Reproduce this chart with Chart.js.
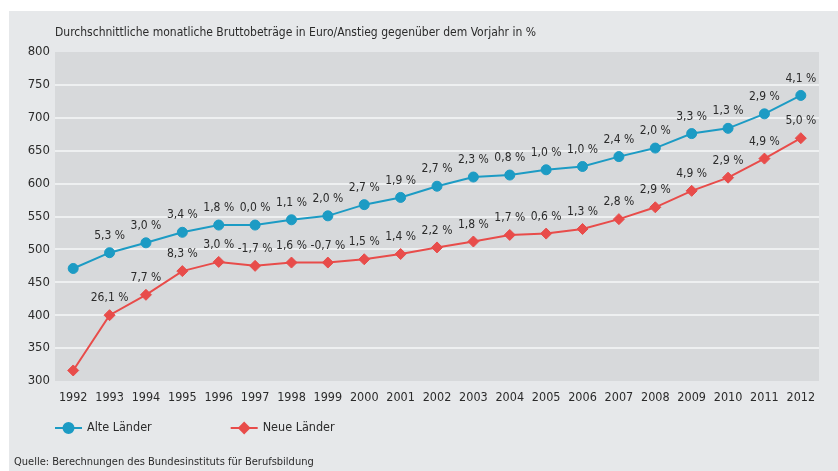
<!DOCTYPE html>
<html lang="de">
<head>
  <meta charset="UTF-8">
  <title>Ausbildungsvergütungen</title>
  <script src="https://cdn.jsdelivr.net/npm/chart.js@4.4.1/dist/chart.umd.min.js"></script>
  <style>
    body { margin: 0; background: #fff; }
    canvas { display: block; }
  </style>
</head>
<body>
  <canvas id="myChart" width="838" height="471"></canvas>

  <script>
  var years = ['1992','1993','1994','1995','1996','1997','1998','1999','2000','2001','2002',
               '2003','2004','2005','2006','2007','2008','2009','2010','2011','2012'];
  var alteWerte = [471, 495, 510, 526, 537, 537, 545, 551, 568, 579, 596,
                   610, 613, 621, 626, 641, 654, 676, 684, 706, 734];
  var neueWerte = [316, 400, 431, 467, 481, 475, 480, 480, 485, 493, 503,
                   512, 522, 524, 531, 546, 564, 589, 609, 638, 669];
  var alteProzent = ['', '5,3 %', '3,0 %', '3,4 %', '1,8 %', '0,0 %', '1,1 %', '2,0 %', '2,7 %', '1,9 %', '2,7 %',
                     '2,3 %', '0,8 %', '1,0 %', '1,0 %', '2,4 %', '2,0 %', '3,3 %', '1,3 %', '2,9 %', '4,1 %'];
  var neueProzent = ['', '26,1 %', '7,7 %', '8,3 %', '3,0 %', '-1,7 %', '1,6 %', '-0,7 %', '1,5 %', '1,4 %', '2,2 %',
                     '1,8 %', '1,7 %', '0,6 %', '1,3 %', '2,8 %', '2,9 %', '4,9 %', '2,9 %', '4,9 %', '5,0 %'];
  var yTicks = [300, 350, 400, 450, 500, 550, 600, 650, 700, 750, 800];

  var FONT = '"DejaVu Sans Condensed", "Liberation Sans", sans-serif';
  var BLUE = '#1c9bc4';
  var RED = '#e84c4a';
  var TEXT = '#2b2b2b';

  // backgrounds, heading, percent labels, legend and source
  var decor = {
    id: 'decor',
    beforeDraw: function(chart) {
      var ctx = chart.ctx, a = chart.chartArea;
      ctx.save();
      ctx.fillStyle = '#e6e8ea';
      ctx.fillRect(9, 11, chart.width - 9, chart.height - 11);
      ctx.fillStyle = '#d7d9db';
      ctx.fillRect(a.left, a.top, a.right - a.left, a.bottom - a.top);
      ctx.restore();
    },
    afterDatasetsDraw: function(chart) {
      var ctx = chart.ctx;
      var labels = [alteProzent, neueProzent];
      ctx.save();
      ctx.font = '12px ' + FONT;
      ctx.fillStyle = TEXT;
      ctx.textAlign = 'center';
      ctx.textBaseline = 'middle';
      chart.data.datasets.forEach(function(ds, i) {
        chart.getDatasetMeta(i).data.forEach(function(pt, j) {
          if (labels[i][j]) ctx.fillText(labels[i][j], pt.x, pt.y - 17);
        });
      });
      ctx.restore();
    },
    afterDraw: function(chart) {
      var ctx = chart.ctx, a = chart.chartArea;
      ctx.save();
      ctx.fillStyle = TEXT;
      ctx.textBaseline = 'middle';
      ctx.textAlign = 'left';
      ctx.font = '12px ' + FONT;
      ctx.fillText('Durchschnittliche monatliche Bruttobeträge in Euro/Anstieg gegenüber dem Vorjahr in %', a.left, 33);

      // legend: line with marker
      var x = a.left, y = 428;
      ctx.font = '12.5px ' + FONT;
      chart.data.datasets.forEach(function(ds) {
        ctx.strokeStyle = ds.borderColor;
        ctx.lineWidth = 2;
        ctx.beginPath();
        ctx.moveTo(x, y);
        ctx.lineTo(x + 27, y);
        ctx.stroke();
        ctx.fillStyle = ds.backgroundColor;
        Chart.helpers.drawPoint(ctx, {pointStyle: ds.pointStyle, radius: 5, rotation: 0, borderWidth: 1}, x + 13.5, y);
        ctx.fillStyle = TEXT;
        ctx.fillText(ds.label, x + 32, y);
        x += 32 + ctx.measureText(ds.label).width + 79;
      });

      ctx.font = '11px ' + FONT;
      ctx.fillText('Quelle: Berechnungen des Bundesinstituts für Berufsbildung', 14, 462);
      ctx.restore();
    }
  };

  var ctx = document.getElementById('myChart');
  var myChart = new Chart(ctx, {
    type: 'line',
    data: {
      labels: years,
      datasets: [{
        label: 'Alte Länder',
        data: alteWerte,
        borderColor: BLUE,
        backgroundColor: BLUE,
        borderWidth: 2,
        pointStyle: 'circle',
        pointRadius: 5,
        pointBorderWidth: 1,
        tension: 0
      }, {
        label: 'Neue Länder',
        data: neueWerte,
        borderColor: RED,
        backgroundColor: RED,
        borderWidth: 2,
        pointStyle: 'rectRot',
        pointRadius: 5.5,
        pointBorderWidth: 1,
        tension: 0
      }]
    },
    options: {
      responsive: false,
      animation: false,
      layout: { padding: { left: 0, right: 19, top: 52, bottom: 0 } },
      plugins: {
        legend: { display: false },
        tooltip: { enabled: false }
      },
      scales: {
        x: {
          offset: true,
          grid: { display: false, drawTicks: false },
          border: { display: false },
          ticks: { color: TEXT, font: { family: FONT, size: 12.5 }, padding: 9, maxRotation: 0, autoSkip: false },
          afterFit: function(s) { s.height = 90; }
        },
        y: {
          min: 300,
          max: 800,
          afterBuildTicks: function(s) { s.ticks = yTicks.map(function(v) { return { value: v }; }); },
          border: { display: false },
          grid: {
            drawTicks: false,
            lineWidth: 2,
            color: function(c) {
              return (c.tick && (c.tick.value === 300 || c.tick.value === 800)) ? 'rgba(0,0,0,0)' : '#eef0f1';
            }
          },
          ticks: { color: TEXT, font: { family: FONT, size: 13 }, padding: 5 },
          afterFit: function(s) { s.width = 55; }
        }
      }
    },
    plugins: [decor]
  });
  </script>
</body>
</html>
